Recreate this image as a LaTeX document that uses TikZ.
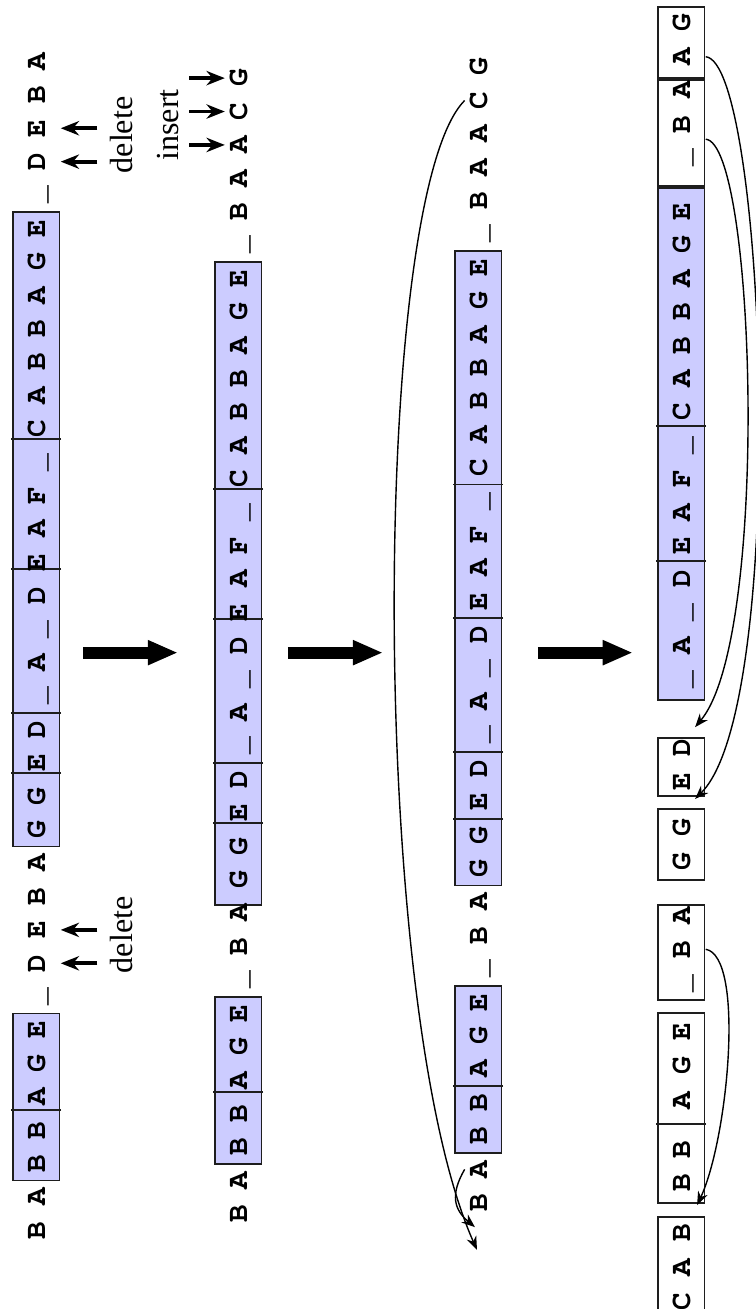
\documentclass[tikz,border=0pt]{standalone}
\usepackage[T1]{fontenc}
\usepackage{fontspec}
\setmainfont{Liberation Serif}
\newcommand{\seqfont}{\fontencoding{T1}\fontfamily{pcr}\fontseries{b}\fontsize{10.5}{12}\selectfont}
\usepackage{xcolor}
\definecolor{cellblue}{RGB}{204,204,255}
\definecolor{rule}{RGB}{30,30,30}
\usepackage{tikz}
\usetikzlibrary{arrows.meta}
\tikzset{
  ch/.style   ={font=\seqfont,anchor=base,
                inner sep=2pt,text height=5.8pt,text depth=3.4pt},
  cell/.style ={draw=rule,line width=0.6pt,fill=cellblue},
  blank/.style={draw=rule,line width=0.6pt,fill=white},
  cut/.style  ={draw=rule,line width=0.6pt},
  edit/.style ={-{Stealth[length=2.3mm,width=1.8mm]},line width=1.4pt},
  stage/.style={-{Triangle[length=3.8mm,width=2.9mm]},line width=4.2pt},
  move/.style ={-{Stealth[length=1.7mm,width=1.3mm]},line width=0.5pt},
  note/.style ={font=\fontsize{11.5}{13}\selectfont,inner sep=0pt},
}

\begin{document}
\begin{tikzpicture}[x=0.42cm,y=0.42cm]
\begin{scope}[rotate=90,transform shape]
  \useasboundingbox (-19.85,-22.63) rectangle (19.34,0);

  % row 1: boxes, then letters
  \filldraw[cell] (-16,-1.78) rectangle (-11,-0.39);
  \filldraw[cell] (-6,-1.78) rectangle (13,-0.39);
  \foreach \x in {-13.9,-3.8,-2,2.3,6.2}
    \draw[cut] (\x,-1.83) -- (\x,-0.34);
  \foreach \c [count=\i from 0] in {B,A,B,B,A,G,E,\_,D,E,B,A,G,G,E,D,\_,A,\_,D,E,A,F,\_,C,A,B,B,A,G,E,\_,D,E,B,A}
    \node[ch] (r1c\i) at (\i-17.5,-1.35) {\c};
  \foreach \i in {8,9,32,33}
    \draw[edit] (r1c\i.south) ++(0,-1.1) -- (r1c\i.south);
  \node[note] (del1) at (-8.65,-3.64) {delete};
  \node[note] (del2) at (15.3,-3.64) {delete};

  % row 2
  \filldraw[cell] (-15.5,-7.83) rectangle (-10.5,-6.44);
  \filldraw[cell] (-7.75,-7.83) rectangle (11.5,-6.44);
  \foreach \x in {-13.35,-5.3,-3.5,0.8,4.7}
    \draw[cut] (\x,-7.88) -- (\x,-6.39);
  \foreach \c [count=\i from 0] in {B,A,B,B,A,G,E,\_,B,A,G,G,E,D,\_,A,\_,D,E,A,F,\_,C,A,B,B,A,G,E,\_,B,A,A,C,G}
    \node[ch] (r2c\i) at (\i-17,-7.40) {\c};
  \foreach \i in {32,33,34}
    \draw[edit] (r2c\i.north) ++(0,1.06) -- (r2c\i.north);
  \node[note] (ins) at (15.6,-5.04) {insert};

  % row 3
  \filldraw[cell] (-15.17,-15.01) rectangle (-10.17,-13.62);
  \filldraw[cell] (-7.17,-15.01) rectangle (11.83,-13.62);
  \foreach \x in {-13.17,-5.17,-3.17,0.83,4.83}
    \draw[cut] (\x,-15.06) -- (\x,-13.57);
  \foreach \c [count=\i from 0] in {B,A,B,B,A,G,E,\_,B,A,G,G,E,D,\_,A,\_,D,E,A,F,\_,C,A,B,B,A,G,E,\_,B,A,A,C,G}
    \node[ch] (r3c\i) at (\i-16.67,-14.58) {\c};
  \coordinate (front) at (-18.08,-14.28);
  \coordinate (slot) at (-17.4,-14.22);
  \draw[move] (r3c33.north) .. controls +(135:4) and +(24:8) .. (front);
  \draw[move] (r3c1.north) .. controls +(150:0.9) and +(50:0.8) .. (slot);

  % row 4: pieces after the moves
  \filldraw[blank] (-20.3,-21.09) rectangle (-17.1,-19.70);
  \filldraw[blank] (-16.68,-21.09) rectangle (-10.99,-19.70);
  \filldraw[blank] (-10.6,-21.09) rectangle (-7.75,-19.70);
  \filldraw[blank] (-7.0,-21.09) rectangle (-4.88,-19.70);
  \filldraw[blank] (-4.49,-21.09) rectangle (-2.75,-19.70);
  \filldraw[cell]  (-1.62,-21.09) rectangle (13.71,-19.70);
  \filldraw[blank] (13.77,-21.09) rectangle (16.95,-19.70);
  \filldraw[blank] (17.0,-21.09) rectangle (19.13,-19.70);
  \foreach \x in {-14.31,2.55,6.59}
    \draw[cut] (\x,-21.14) -- (\x,-19.65);
  \foreach \x/\c [count=\i from 0] in {-19.62/C,-18.6/A,-17.58/B,-16.08/B,-15.08/B,-13.6/A,-12.58/G,-11.56/E,
      -10.1/\_,-9.08/B,-8.06/A,-6.46/G,-5.44/G,-4.06/E,-3.06/D,-1/\_,0/A,1/\_,2/D,3/E,4/A,5/F,6/\_,
      7/C,8/A,9/B,10/B,11/A,12/G,13/E,14.62/\_,15.62/B,16.64/A,17.64/A,18.66/G}
    \node[ch] (r4c\i) at (\x,-20.66) {\c};
  \coordinate (gap1) at (-2.43,-20.81);
  \coordinate (gap2) at (-4.58,-20.81);
  \coordinate (gap3) at (-16.74,-20.87);
  \draw[move] (r4c33.south) .. controls +(265:1.8) and +(315:4) .. (gap2);
  \draw[move] (r4c31.south west) .. controls +(265:1.5) and +(320:3.5) .. (gap1);
  \draw[move] (r4c9.south) .. controls +(260:1.2) and +(335:2.2) .. (gap3);

  % stage arrows
  \coordinate (a1) at (-0.2,-2.49);  \coordinate (b1) at (-0.2,-5.33);
  \coordinate (a2) at (-0.2,-8.62);  \coordinate (b2) at (-0.2,-11.47);
  \coordinate (a3) at (-0.2,-16.1);  \coordinate (b3) at (-0.2,-18.95);
  \draw[stage] (a1) -- (b1);
  \draw[stage] (a2) -- (b2);
  \draw[stage] (a3) -- (b3);
\end{scope}
\end{tikzpicture}
\end{document}
